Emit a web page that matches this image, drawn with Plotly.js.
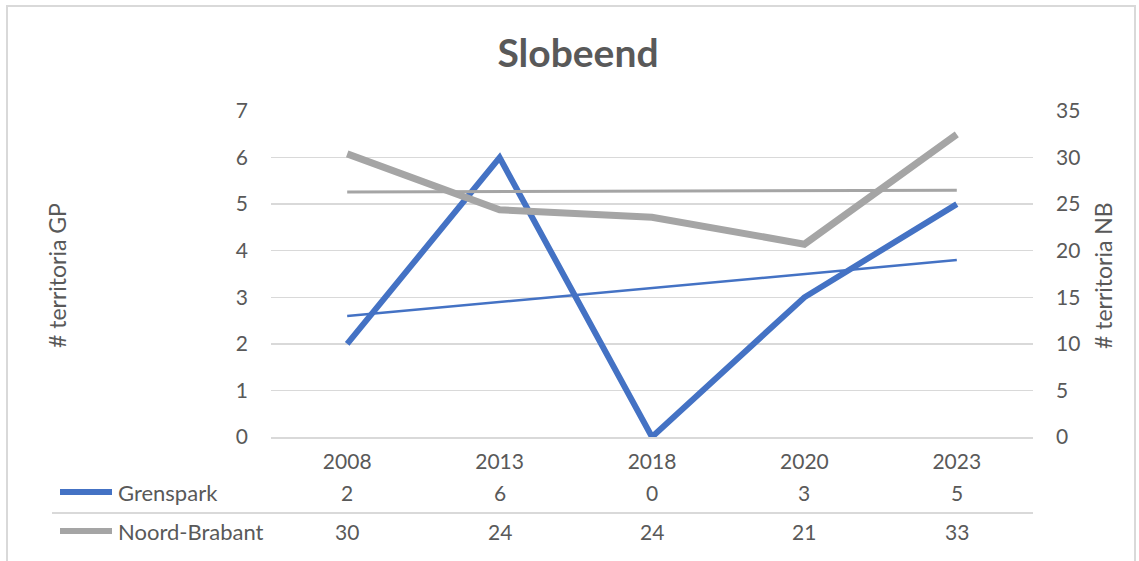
<!DOCTYPE html>
<html>
<head>
<meta charset="utf-8">
<script src="https://cdn.plot.ly/plotly-3.0.1.min.js"></script>
<style>
  html, body { margin: 0; padding: 0; background: #ffffff; }
  #wrap { position: relative; width: 1139px; height: 561px; overflow: hidden; }
  #chart { position: absolute; left: 0; top: 0; width: 1139px; height: 561px; }
  #frame { position: absolute; left: 6px; top: 5px; width: 1126px; height: 600px;
           border: 2px solid #d9d9d9; pointer-events: none; }
</style>
</head>
<body>
<div id="wrap">
  <div id="chart"></div>
  <div id="frame"></div>
</div>
<script>
// ---- data ----
const years = ['2008', '2013', '2018', '2020', '2023'];
const grenspark = [2, 6, 0, 3, 5];
const noordBrabant = [30.4, 24.4, 23.6, 20.7, 32.5];
const grensparkTable = ['2', '6', '0', '3', '5'];
const noordBrabantTable = ['30', '24', '24', '21', '33'];
const trendYears = ['2008', '2023'];
const grensparkTrend = [2.6, 3.8];
const noordBrabantTrend = [26.3, 26.5];
const seriesNames = ['Grenspark', 'Noord-Brabant'];
const titleText = 'Slobeend';
const yTitleLeft = '# territoria GP';
const yTitleRight = '# territoria NB';

// ---- layout constants ----
const W = 1139, H = 561;
const L = 271, R = 106, T = 111, B = 124;
const plotW = W - L - R, plotH = H - T - B;
const px = x => (x - L) / plotW;
const py = y => (H - B - y) / plotH;

const BLUE = '#4472C4';
const GRAY = '#A5A5A5';
const TXT = '#595959';
const FONT = 'Lato, "Open Sans", sans-serif';
const TICK = 21, ROW = 22, ATITLE = 23;

const traces = [
  { x: trendYears, y: grensparkTrend, type: 'scatter', mode: 'lines', yaxis: 'y',
    line: { color: BLUE, width: 2.5 }, hoverinfo: 'skip', showlegend: false },
  { x: trendYears, y: noordBrabantTrend, type: 'scatter', mode: 'lines', yaxis: 'y2',
    line: { color: GRAY, width: 3 }, hoverinfo: 'skip', showlegend: false },
  { x: years, y: noordBrabant, type: 'scatter', mode: 'lines', yaxis: 'y2', name: seriesNames[1],
    line: { color: GRAY, width: 7 }, showlegend: false },
  { x: years, y: grenspark, type: 'scatter', mode: 'lines', yaxis: 'y', name: seriesNames[0],
    line: { color: BLUE, width: 6 }, showlegend: false }
];

const annotations = [];
annotations.push({ text: yTitleLeft, xref: 'paper', yref: 'paper', x: px(57), y: py(276),
  showarrow: false, textangle: -90, xanchor: 'center', yanchor: 'middle',
  font: { family: FONT, size: ATITLE, color: TXT } });
annotations.push({ text: yTitleRight, xref: 'paper', yref: 'paper', x: px(1103), y: py(276),
  showarrow: false, textangle: -90, xanchor: 'center', yanchor: 'middle',
  font: { family: FONT, size: ATITLE, color: TXT } });
const rowY = [492, 531];
const rowVals = [grensparkTable, noordBrabantTable];
seriesNames.forEach((nm, r) => {
  annotations.push({ text: nm, xref: 'paper', yref: 'paper', x: px(116), y: py(rowY[r]),
    showarrow: false, xanchor: 'left', yanchor: 'middle',
    font: { family: FONT, size: ROW, color: TXT } });
  years.forEach((yr, i) => {
    annotations.push({ text: rowVals[r][i], xref: 'x', yref: 'paper', x: i, y: py(rowY[r]),
      showarrow: false, xanchor: 'center', yanchor: 'middle',
      font: { family: FONT, size: TICK, color: TXT } });
  });
});

const shapes = [
  { type: 'line', xref: 'paper', yref: 'paper', x0: px(52), x1: px(1033), y0: py(513), y1: py(513),
    line: { color: '#d9d9d9', width: 2 } },
  { type: 'line', xref: 'paper', yref: 'paper', x0: px(60), x1: px(112), y0: py(492), y1: py(492),
    line: { color: BLUE, width: 6 } },
  { type: 'line', xref: 'paper', yref: 'paper', x0: px(60), x1: px(112), y0: py(531), y1: py(531),
    line: { color: GRAY, width: 6 } }
];

const layout = {
  width: W, height: H,
  margin: { l: L, r: R, t: T, b: B, pad: 0 },
  paper_bgcolor: '#ffffff', plot_bgcolor: '#ffffff',
  font: { family: FONT, color: TXT, size: TICK },
  showlegend: false,
  title: { text: '<b>' + titleText + '</b>', x: 578 / W, xref: 'container', xanchor: 'center',
           y: 1 - 53 / H, yref: 'container', yanchor: 'middle',
           font: { family: FONT, size: 39, color: TXT } },
  xaxis: { type: 'category', categoryorder: 'array', categoryarray: years, range: [-0.5, 4.5],
           showgrid: false, zeroline: false,
           showline: true, linecolor: '#d9d9d9', linewidth: 2, ticks: '',
           ticklabelstandoff: 5, tickfont: { family: FONT, size: TICK, color: TXT }, fixedrange: true },
  yaxis: { range: [0, 7], dtick: 1, tick0: 0, showgrid: true, gridcolor: '#d9d9d9', gridwidth: 1.5,
           zeroline: false, showline: false, ticks: '', ticklabelstandoff: 22,
           tickfont: { family: FONT, size: TICK, color: TXT }, fixedrange: true },
  yaxis2: { range: [0, 35], dtick: 5, tick0: 0, overlaying: 'y', side: 'right', showgrid: false,
            zeroline: false, showline: false, ticks: '', ticklabelstandoff: 22,
            tickfont: { family: FONT, size: TICK, color: TXT }, fixedrange: true },
  annotations: annotations,
  shapes: shapes
};

Plotly.newPlot('chart', traces, layout, { displayModeBar: false, staticPlot: true });
</script>
</body>
</html>
